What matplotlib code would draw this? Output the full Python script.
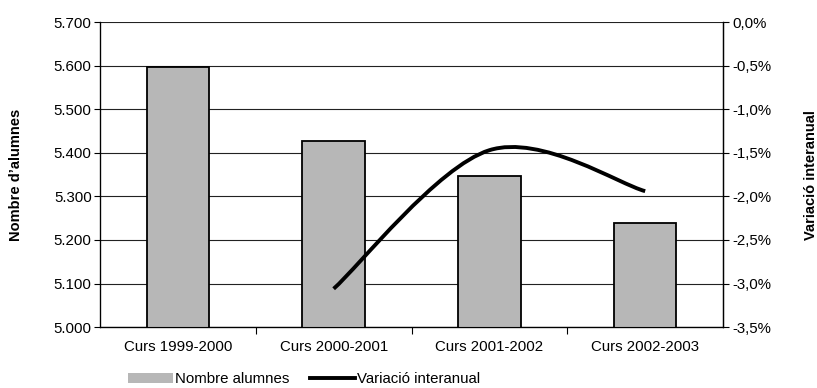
import matplotlib.pyplot as plt
import numpy as np
from matplotlib.path import Path
from matplotlib.patches import PathPatch, Patch
from matplotlib.lines import Line2D

plt.rcParams['font.family'] = ['Liberation Sans', 'DejaVu Sans']
plt.rcParams['font.size'] = 10.8

cursos = ["Curs 1999-2000", "Curs 2000-2001", "Curs 2001-2002", "Curs 2002-2003"]
alumnes = [5597, 5427, 5346, 5239]
variacio = [None, -3.06, -1.47, -1.94]


def smooth_path(xs, ys):
    # Excel-like smoothed line: cubic Bezier with Catmull-Rom tangents
    pts = np.column_stack([xs, ys])
    verts = [pts[0]]
    codes = [Path.MOVETO]
    n = len(pts)
    for i in range(n - 1):
        p0 = pts[max(i - 1, 0)]
        p1 = pts[i]
        p2 = pts[i + 1]
        p3 = pts[min(i + 2, n - 1)]
        c1 = p1 + (p2 - p0) / 6.0
        c2 = p2 - (p3 - p1) / 6.0
        verts += [c1, c2, p2]
        codes += [Path.CURVE4] * 3
    return Path(verts, codes)


fig = plt.figure(figsize=(8.17, 3.88), dpi=100)
ax = fig.add_axes([0.1224, 0.157, 0.7626, 0.786])

x = np.arange(len(cursos))
ax.bar(x, alumnes, width=0.4, color='#b7b7b7', edgecolor='black', linewidth=1.3, zorder=3)
ax.set_xlim(-0.5, len(cursos) - 0.5)
ax.set_ylim(5000, 5700)
ax.set_yticks(np.arange(5000, 5701, 100))
ax.set_yticklabels([f"{v // 1000}.{v % 1000:03d}" for v in range(5000, 5701, 100)])
ax.yaxis.grid(True, color='#222222', linewidth=0.8, zorder=0)
ax.set_axisbelow(True)

ax.set_xticks(x)
ax.set_xticklabels(cursos)
ax.set_xticks(np.arange(0.5, len(cursos) - 0.5, 1), minor=True)
ax.tick_params(axis='x', which='major', length=0, pad=9)
ax.tick_params(axis='x', which='minor', length=5, width=0.8, direction='out')
ax.tick_params(axis='y', length=4, width=0.8, direction='out', pad=2)
ax.spines['top'].set_visible(False)
for s in ['left', 'bottom', 'right']:
    ax.spines[s].set_linewidth(0.9)

ax2 = ax.twinx()
ax2.set_ylim(-3.5, 0)
ax2.set_yticks(np.arange(-3.5, 0.01, 0.5))
ax2.set_yticklabels([f"{v:.1f}%".replace('.', ',') for v in np.arange(-3.5, 0.01, 0.5)])
ax2.tick_params(axis='y', length=4, width=0.8, direction='out', pad=3)
ax2.spines['top'].set_visible(False)
ax2.spines['right'].set_linewidth(0.9)

fig.text(0.019, 0.55, "Nombre d’alumnes", rotation=90, fontweight='bold',
         ha='center', va='center', fontsize=10.5)
fig.text(0.993, 0.55, "Variació interanual", rotation=90, fontweight='bold',
         ha='center', va='center', fontsize=10.5)

vx = [i for i, v in enumerate(variacio) if v is not None]
vy = [v for v in variacio if v is not None]
ax2.add_patch(PathPatch(smooth_path(vx, vy), facecolor='none', edgecolor='black',
                        linewidth=2.8, capstyle='butt', zorder=4))

handles = [Patch(facecolor='#b7b7b7', edgecolor='none'),
           Line2D([0], [0], color='black', linewidth=2.8)]
fig.legend(handles, ["Nombre alumnes", "Variació interanual"], loc='center',
           bbox_to_anchor=(0.372, 0.022), ncol=2, frameon=False, fontsize=10.8,
           handlelength=3.0, handleheight=0.6, handletextpad=0.1, columnspacing=1.4,
           borderpad=0)

fig.savefig("out.png", dpi=100)
